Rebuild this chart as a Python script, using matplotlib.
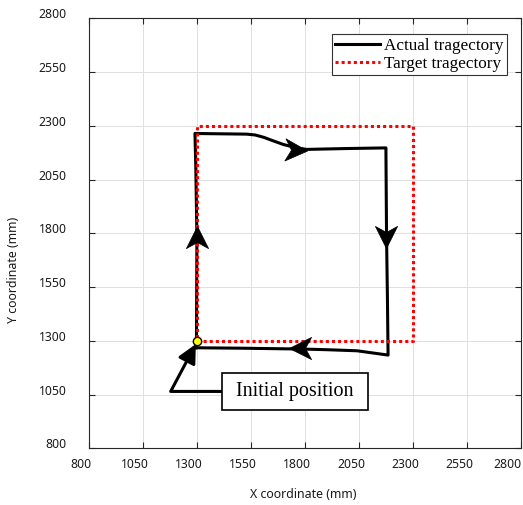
import numpy as np
import matplotlib
matplotlib.use("Agg")
import matplotlib.pyplot as plt
from matplotlib.path import Path
from matplotlib.markers import MarkerStyle
import matplotlib.transforms as mtransforms

plt.rcParams['font.family'] = ['Noto Sans', 'DejaVu Sans']

# target square (mm)
target_x = [1300, 2300, 2300, 1300, 1300]
target_y = [1300, 1300, 2300, 2300, 1300]

actual_x = [1293, 1298, 1300, 1295, 1291, 1530, 1570, 1610, 1650, 1700, 1762, 1808,
            1990, 2175, 2178, 2182, 2185, 2041, 1900, 1791, 1500, 1291]
actual_y = [1268, 1300, 1784, 2100, 2264, 2261, 2257, 2246, 2231, 2213, 2197, 2190,
            2194, 2197, 1783, 1500, 1234, 1254, 1259, 1262, 1266, 1268]

# direction arrows along the trajectory: centre and heading (deg)
arrow_x = [1300, 1758, 2175, 1777]
arrow_y = [1784, 2188, 1783, 1267]
arrow_dir = [90, -3, -90, 180]

start_x, start_y = 1300, 1300
ticks = np.arange(800, 2801, 250)

fig = plt.figure(figsize=(5.23, 5.05), dpi=100)
ax = fig.add_axes([0.170, 0.112, 0.826, 0.852])

ax.plot(actual_x, actual_y, '-', color='black', lw=2.2, label='Actual tragectory', zorder=3)
ax.plot(target_x, target_y, color='red', lw=2.2, linestyle=(0, (1, 1)), label='Target tragectory', zorder=4)

# stealth-type arrow heads
head = Path([(1, 0), (-1, 1), (-0.45, 0), (-1, -1), (1, 0)],
            [Path.MOVETO, Path.LINETO, Path.LINETO, Path.LINETO, Path.CLOSEPOLY])
for xa, ya, d in zip(arrow_x, arrow_y, arrow_dir):
    ax.plot(xa, ya, marker=MarkerStyle(head).rotated(deg=d), ms=16, color='black',
            mec='black', mew=0.5, ls='none', zorder=5)

ax.plot(start_x, start_y, 'o', ms=6, mfc='yellow', mec='black', mew=1, zorder=6)

ax.annotate(' Initial position ', xy=(1295, 1285), xytext=(1754, 1065),
            ha='center', va='center', fontsize=14.5, family='Liberation Serif',
            bbox=dict(boxstyle='square,pad=0.45', fc='white', ec='black', lw=1.2),
            arrowprops=dict(arrowstyle='-|>,head_length=0.8,head_width=0.4',
                            connectionstyle='angle,angleA=0,angleB=62,rad=0',
                            color='black', lw=2.2, shrinkA=0, shrinkB=0,
                            mutation_scale=14),
            zorder=7)

ax.set_xlim(800, 2800)
ax.set_ylim(800, 2800)
ax.set_xticks(ticks)
ax.set_yticks(ticks)
ax.grid(True, color='0.88', lw=0.7)
ax.set_axisbelow(True)
ax.tick_params(direction='in', length=4, width=0.8, top=True, right=True,
               colors='0.15', labelcolor='0.1', labelsize=8.8)
ax.tick_params(axis='y', pad=16)
ax.tick_params(axis='x', pad=7)
for s in ax.spines.values():
    s.set_color('0.15')
    s.set_linewidth(0.8)

# tick labels sit a little off their ticks in the original
dx = mtransforms.ScaledTranslation(-8 / 100, 0, fig.dpi_scale_trans)
dx_end = mtransforms.ScaledTranslation(-13 / 100, 0, fig.dpi_scale_trans)
dy = mtransforms.ScaledTranslation(0, 5 / 100, fig.dpi_scale_trans)
xlabs = ax.get_xticklabels()
for i, lab in enumerate(xlabs):
    lab.set_transform(lab.get_transform() + (dx_end if i == len(xlabs) - 1 else dx))
for lab in ax.get_yticklabels():
    lab.set_transform(lab.get_transform() + dy)

ax.set_xlabel('X coordinate (mm)', fontsize=8.9, color='0.1')
ax.set_ylabel('Y coordinate (mm)', fontsize=8.9, color='0.1')
ax.xaxis.set_label_coords(0.497, -0.092)
ax.yaxis.set_label_coords(-0.160, 0.416)

leg = ax.legend(loc='upper right', bbox_to_anchor=(0.968, 0.963), fancybox=False,
                edgecolor='0.2', framealpha=1, borderaxespad=0, borderpad=0.2,
                handlelength=2.6, handletextpad=0.25, labelspacing=0.15,
                prop={'family': 'Liberation Serif', 'size': 12.3})
leg.get_frame().set_linewidth(0.8)

fig.savefig('out.png', dpi=100)
